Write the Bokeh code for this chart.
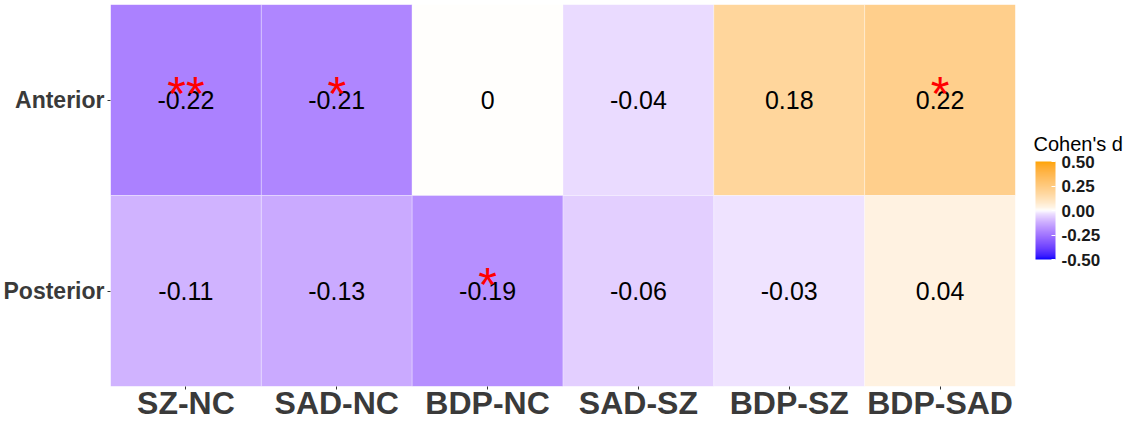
import numpy as np
from bokeh.plotting import figure
from bokeh.models import (ColumnDataSource, LinearColorMapper, ColorBar,
                          FixedTicker, NumeralTickFormatter, Label)
from bokeh.core.properties import value
from bokeh.embed import file_html
from bokeh.resources import INLINE

# ---------------- data ----------------
comparisons = ["SZ-NC", "SAD-NC", "BDP-NC", "SAD-SZ", "BDP-SZ", "BDP-SAD"]
regions = ["Posterior", "Anterior"]
anterior_d = [-0.22, -0.21, 0.0, -0.04, 0.18, 0.22]
posterior_d = [-0.11, -0.13, -0.19, -0.06, -0.03, 0.04]
anterior_sig = ["**", "*", "", "", "", "*"]
posterior_sig = ["", "", "*", "", "", ""]
legend_ticks = [-0.5, -0.25, 0.0, 0.25, 0.5]
legend_title = "Cohen's d"

# ---------------- colour palette (Lab interpolation, like ggplot gradient2) ----------------
def _srgb_to_lab(rgb):
    c = np.asarray(rgb, dtype=float) / 255.0
    c = np.where(c <= 0.04045, c / 12.92, ((c + 0.055) / 1.055) ** 2.4)
    M = np.array([[0.4124564, 0.3575761, 0.1804375],
                  [0.2126729, 0.7151522, 0.0721750],
                  [0.0193339, 0.1191920, 0.9503041]])
    xyz = M @ c
    xyz = xyz / np.array([0.95047, 1.0, 1.08883])
    d = 6 / 29
    f = np.where(xyz > d ** 3, np.cbrt(xyz), xyz / (3 * d * d) + 4 / 29)
    return np.array([116 * f[1] - 16, 500 * (f[0] - f[1]), 200 * (f[1] - f[2])])

def _lab_to_hex(lab):
    L, a, b = lab
    fy = (L + 16) / 116
    fx = fy + a / 500
    fz = fy - b / 200
    d = 6 / 29
    f = np.array([fx, fy, fz])
    xyz = np.where(f > d, f ** 3, 3 * d * d * (f - 4 / 29))
    xyz = xyz * np.array([0.95047, 1.0, 1.08883])
    Minv = np.array([[3.2404542, -1.5371385, -0.4985314],
                     [-0.9692660, 1.8760108, 0.0415560],
                     [0.0556434, -0.2040259, 1.0572252]])
    c = Minv @ xyz
    c = np.clip(c, 0, 1)
    c = np.where(c <= 0.0031308, 12.92 * c, 1.055 * c ** (1 / 2.4) - 0.055)
    r, g, bb = (np.clip(np.round(c * 255), 0, 255)).astype(int)
    return "#%02x%02x%02x" % (r, g, bb)

low_lab = _srgb_to_lab((0, 0, 255))
mid_lab = _srgb_to_lab((255, 255, 255))
high_lab = _srgb_to_lab((255, 165, 0))
palette = []
for t in np.linspace(0, 1, 256):
    if t < 0.5:
        s = ((0.5 - t) / 0.5) ** 0.75
        lab = mid_lab + (low_lab - mid_lab) * s
    else:
        s = ((t - 0.5) / 0.5) ** 0.8
        lab = mid_lab + (high_lab - mid_lab) * s
    palette.append(_lab_to_hex(lab))

mapper = LinearColorMapper(palette=palette, low=-0.5, high=0.5)

# ---------------- table ----------------
xs, ys, ds, labels, stars = [], [], [], [], []
for region, vals, sigs in (("Anterior", anterior_d, anterior_sig),
                           ("Posterior", posterior_d, posterior_sig)):
    for comp, v, s in zip(comparisons, vals, sigs):
        xs.append(comp)
        ys.append(region)
        ds.append(v)
        labels.append(f"{v:g}")
        stars.append(s)
src = ColumnDataSource(dict(comp=xs, region=ys, d=ds, label=labels, star=stars))

FONT = "Liberation Sans"

p = figure(x_range=comparisons, y_range=regions, width=1126, height=423,
           output_backend="svg", toolbar_location=None,
           min_border_top=4, min_border_bottom=30, min_border_left=110,
           min_border_right=111)
p.outline_line_color = None
p.xgrid.visible = False
p.ygrid.visible = False
p.x_range.range_padding = 0
p.y_range.range_padding = 0

p.rect(x="comp", y="region", width=1, height=1, source=src,
       fill_color={"field": "d", "transform": mapper},
       line_color="white", line_alpha=0.3, line_width=1)

p.text(x="comp", y="region", text="label", source=src,
       text_align="center", text_baseline="middle",
       text_font=value(FONT), text_font_size="25px", text_color="black")

p.text(x="comp", y="region", text="star", source=src,
       text_align="center", text_baseline="alphabetic", y_offset=-7,
       text_font=value(FONT), text_font_size="48px", text_color="#ff0000")

for ax in (p.xaxis, p.yaxis):
    ax.axis_line_color = None
    ax.major_tick_line_color = "#333333"
    ax.major_tick_out = 3
    ax.major_tick_in = 0
    ax.minor_tick_line_color = None
    ax.major_label_text_font = FONT
    ax.major_label_text_font_style = "bold"
    ax.major_label_text_color = "#3a3a3a"
p.xaxis.major_label_standoff = -5
p.yaxis.major_label_standoff = 3
p.xaxis.major_label_text_font_size = "32px"
p.yaxis.major_label_text_font_size = "23px"

cb = ColorBar(color_mapper=mapper, ticker=FixedTicker(ticks=legend_ticks),
              formatter=NumeralTickFormatter(format="0.00"),
              width=20, height=98, title=None,
              major_label_text_font=FONT, major_label_text_font_size="17px",
              major_label_text_font_style="bold", major_label_text_color="#1a1a1a",
              major_tick_line_color="white", major_tick_in=4, major_tick_out=0,
              minor_tick_line_color=None, bar_line_color=None,
              border_line_color=None, background_fill_color=None,
              margin=0, padding=0, label_standoff=6, location=(925, 127))
p.add_layout(cb, "center")

title_lbl = Label(x=18, y=243, x_units="screen", y_units="screen",
                  text=legend_title, text_font=FONT, text_font_size="20px",
                  text_color="black", text_baseline="middle", text_align="left")
p.add_layout(title_lbl, "right")

open("out.html", "w").write(file_html(p, INLINE))
